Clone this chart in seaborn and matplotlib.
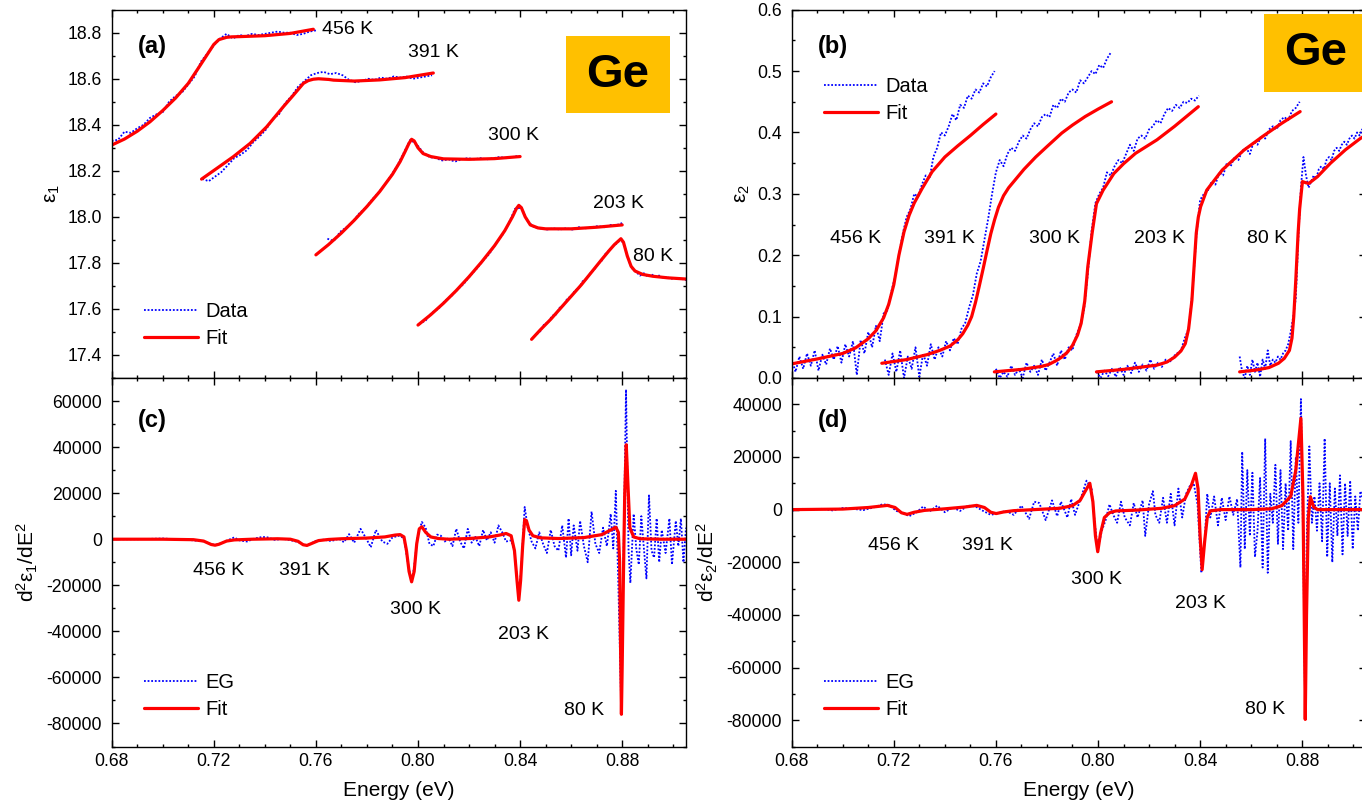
import numpy as np
import pandas as pd
import matplotlib
matplotlib.use("Agg")
import matplotlib.pyplot as plt
from matplotlib.patches import Rectangle
from matplotlib.ticker import MultipleLocator, FormatStrFormatter
import seaborn as sns

# ----------------------------------------------------------------------------
# Temperatures
# ----------------------------------------------------------------------------
temps = ["456 K", "391 K", "300 K", "203 K", "80 K"]

# ----------------------------------------------------------------------------
# (a) eps1 : measured spectra (uniform energy grids) and model fits
# ----------------------------------------------------------------------------
a456_data_start, a456_data_step = 0.680, 0.0025
a456_data = [18.33, 18.335, 18.37, 18.365, 18.385, 18.40, 18.43, 18.445, 18.455,
             18.50, 18.525, 18.54, 18.575, 18.61, 18.675, 18.71, 18.745, 18.775,
             18.795, 18.775, 18.79, 18.785, 18.795, 18.79, 18.795, 18.80, 18.805,
             18.80, 18.80, 18.79, 18.795, 18.805, 18.81]
a456_fit_e = [0.680, 0.685, 0.690, 0.695, 0.700, 0.705, 0.710, 0.714, 0.718, 0.720,
              0.722, 0.725, 0.727, 0.730, 0.740, 0.750, 0.759]
a456_fit = [18.312, 18.338, 18.372, 18.413, 18.462, 18.516, 18.58, 18.647, 18.715,
            18.749, 18.770, 18.780, 18.782, 18.783, 18.787, 18.797, 18.815]

a391_data_start, a391_data_step = 0.7155, 0.0025
a391_data = [18.165, 18.155, 18.175, 18.195, 18.225, 18.255, 18.27, 18.29, 18.325,
             18.35, 18.38, 18.425, 18.445, 18.495, 18.525, 18.565, 18.59, 18.615,
             18.625, 18.63, 18.62, 18.625, 18.615, 18.595, 18.585, 18.59, 18.60,
             18.595, 18.605, 18.60, 18.61, 18.605, 18.61, 18.60, 18.605, 18.61, 18.615]
a391_fit_e = [0.7152, 0.7211, 0.7276, 0.7342, 0.7407, 0.7472, 0.7512, 0.7551, 0.757,
              0.759, 0.761, 0.765, 0.7669, 0.775, 0.785, 0.795, 0.806]
a391_fit = [18.164, 18.21, 18.261, 18.319, 18.391, 18.478, 18.529, 18.58, 18.592,
            18.598, 18.600, 18.597, 18.594, 18.590, 18.595, 18.605, 18.625]

a300_data_start, a300_data_step = 0.7645, 0.0025
a300_data = [17.905, 17.895, 17.935, 17.955, 17.98, 18.015, 18.04, 18.075, 18.105,
             18.14, 18.18, 18.225, 18.28, 18.335, 18.315, 18.28, 18.26, 18.255,
             18.245, 18.25, 18.24, 18.25, 18.255, 18.25, 18.255, 18.25, 18.255,
             18.26, 18.255, 18.26, 18.265]
a300_fit_e = [0.760, 0.765, 0.770, 0.775, 0.780, 0.785, 0.790, 0.793, 0.795, 0.7965,
              0.7975, 0.7985, 0.800, 0.802, 0.805, 0.810, 0.820, 0.830, 0.840]
a300_fit = [17.835, 17.88, 17.93, 17.985, 18.045, 18.11, 18.185, 18.24, 18.285, 18.32,
            18.337, 18.33, 18.30, 18.275, 18.262, 18.252, 18.25, 18.253, 18.262]

a203_data_start, a203_data_step = 0.8005, 0.0025
a203_data = [17.535, 17.55, 17.585, 17.60, 17.635, 17.655, 17.685, 17.71, 17.745,
             17.775, 17.81, 17.84, 17.885, 17.92, 17.97, 18.035, 18.04, 17.98,
             17.955, 17.95, 17.945, 17.95, 17.945, 17.95, 17.945, 17.955, 17.95,
             17.955, 17.96, 17.955, 17.965, 17.965, 17.975]
a203_fit_e = [0.800, 0.805, 0.810, 0.815, 0.820, 0.825, 0.830, 0.834, 0.837, 0.8385,
              0.8395, 0.8405, 0.842, 0.844, 0.847, 0.850, 0.860, 0.870, 0.880]
a203_fit = [17.53, 17.575, 17.625, 17.68, 17.74, 17.805, 17.875, 17.94, 18.00, 18.035,
            18.05, 18.04, 18.00, 17.965, 17.952, 17.948, 17.948, 17.955, 17.965]

a80_data_start, a80_data_step = 0.8465, 0.0015
a80_data = [17.49, 17.505, 17.535, 17.54, 17.57, 17.575, 17.605, 17.615, 17.645,
            17.655, 17.68, 17.69, 17.72, 17.73, 17.755, 17.77, 17.795, 17.81, 17.84,
            17.855, 17.875, 17.885, 17.905, 17.87, 17.81, 17.775, 17.76, 17.745,
            17.755, 17.74, 17.75, 17.74, 17.745, 17.735, 17.74, 17.73, 17.735,
            17.73, 17.73, 17.725]
a80_fit_e = [0.8445, 0.848, 0.852, 0.856, 0.860, 0.864, 0.868, 0.872, 0.875, 0.877,
             0.8785, 0.8795, 0.8805, 0.882, 0.8835, 0.885, 0.888, 0.892, 0.898, 0.905]
a80_fit = [17.468, 17.51, 17.555, 17.605, 17.655, 17.705, 17.76, 17.815, 17.855,
           17.88, 17.895, 17.905, 17.89, 17.83, 17.785, 17.765, 17.75, 17.742,
           17.735, 17.73]

# ----------------------------------------------------------------------------
# (b) eps2 : measured spectra and model fits
# ----------------------------------------------------------------------------
b456_data_start, b456_data_step = 0.680, 0.0015
b456_data = [0.030, 0.010, 0.035, 0.015, 0.040, 0.020, 0.045, 0.012, 0.038, 0.022,
             0.048, 0.030, 0.052, 0.025, 0.055, 0.035, 0.060, 0.005, 0.062, 0.040,
             0.075, 0.050, 0.085, 0.060, 0.105, 0.110, 0.140, 0.165, 0.200, 0.235,
             0.262, 0.275, 0.300, 0.295, 0.315, 0.330, 0.325, 0.360, 0.375, 0.400,
             0.395, 0.410, 0.430, 0.420, 0.445, 0.440, 0.460, 0.455, 0.470, 0.465,
             0.480, 0.475, 0.490, 0.500]
b456_fit_e = [0.680, 0.690, 0.700, 0.705, 0.710, 0.713, 0.716, 0.718, 0.720, 0.722,
              0.724, 0.726, 0.728, 0.731, 0.735, 0.740, 0.745, 0.750, 0.755, 0.760]
b456_fit = [0.023, 0.031, 0.040, 0.049, 0.064, 0.077, 0.098, 0.120, 0.152, 0.200,
            0.238, 0.265, 0.285, 0.308, 0.336, 0.360, 0.378, 0.395, 0.413, 0.430]

b391_data_start, b391_data_step = 0.7165, 0.0015
b391_data = [0.030, 0.005, 0.040, 0.010, 0.045, 0.000, 0.035, 0.015, 0.050, 0.002,
             0.040, 0.020, 0.055, 0.030, 0.050, 0.035, 0.060, 0.045, 0.065, 0.055,
             0.080, 0.090, 0.115, 0.135, 0.170, 0.190, 0.225, 0.260, 0.300, 0.335,
             0.355, 0.345, 0.365, 0.375, 0.370, 0.385, 0.395, 0.390, 0.405, 0.415,
             0.410, 0.425, 0.430, 0.425, 0.445, 0.440, 0.455, 0.450, 0.465, 0.470,
             0.465, 0.485, 0.480, 0.490, 0.500, 0.495, 0.510, 0.505, 0.520, 0.530]
b391_fit_e = [0.7153, 0.725, 0.733, 0.738, 0.742, 0.745, 0.747, 0.749, 0.7505, 0.752,
              0.7535, 0.755, 0.7565, 0.758, 0.7595, 0.761, 0.763, 0.765, 0.767, 0.771,
              0.7756, 0.780, 0.7858, 0.790, 0.795, 0.800, 0.8053]
b391_fit = [0.024, 0.030, 0.038, 0.045, 0.052, 0.062, 0.072, 0.086, 0.100, 0.123,
            0.150, 0.178, 0.207, 0.235, 0.258, 0.278, 0.297, 0.310, 0.320, 0.340,
            0.360, 0.377, 0.399, 0.412, 0.426, 0.438, 0.450]

b300_data_start, b300_data_step = 0.760, 0.0015
b300_data = [0.015, 0.000, 0.010, 0.002, 0.020, 0.005, 0.015, 0.000, 0.025, 0.010,
             0.020, 0.005, 0.030, 0.012, 0.025, 0.040, 0.020, 0.045, 0.030, 0.050,
             0.045, 0.070, 0.085, 0.110, 0.170, 0.240, 0.285, 0.300, 0.310, 0.335,
             0.330, 0.345, 0.355, 0.350, 0.365, 0.380, 0.370, 0.390, 0.395, 0.390,
             0.405, 0.410, 0.420, 0.415, 0.430, 0.440, 0.435, 0.445, 0.440, 0.450,
             0.448, 0.455, 0.452, 0.460]
b300_fit_e = [0.7594, 0.770, 0.778, 0.7807, 0.7835, 0.7858, 0.788, 0.790, 0.792,
              0.7934, 0.7948, 0.796, 0.7977, 0.7994, 0.802, 0.8062, 0.810, 0.8147,
              0.8231, 0.830, 0.8393]
b300_fit = [0.010, 0.014, 0.019, 0.022, 0.028, 0.034, 0.042, 0.053, 0.070, 0.089,
            0.125, 0.181, 0.236, 0.284, 0.306, 0.333, 0.349, 0.366, 0.388, 0.410, 0.442]

b203_data_start, b203_data_step = 0.7995, 0.0015
b203_data = [0.010, 0.000, 0.012, 0.003, 0.015, 0.002, 0.018, 0.005, 0.020, 0.008,
             0.025, 0.010, 0.022, 0.012, 0.030, 0.015, 0.025, 0.018, 0.030, 0.025,
             0.035, 0.040, 0.045, 0.065, 0.080, 0.140, 0.230, 0.290, 0.300, 0.305,
             0.320, 0.315, 0.335, 0.330, 0.350, 0.345, 0.360, 0.355, 0.370, 0.375,
             0.365, 0.385, 0.380, 0.395, 0.390, 0.405, 0.410, 0.405, 0.420, 0.425,
             0.420, 0.435, 0.440, 0.450]
b203_fit_e = [0.7994, 0.810, 0.8231, 0.827, 0.830, 0.8325, 0.8342, 0.8355, 0.8368,
              0.8377, 0.8385, 0.8393, 0.8402, 0.8426, 0.8487, 0.8571, 0.865, 0.872,
              0.8792]
b203_fit = [0.010, 0.014, 0.021, 0.026, 0.034, 0.044, 0.056, 0.080, 0.127, 0.185,
            0.236, 0.262, 0.279, 0.306, 0.339, 0.371, 0.395, 0.415, 0.434]

b80_data_start, b80_data_step = 0.8555, 0.001
b80_data = [0.035, 0.010, 0.000, 0.020, 0.005, 0.030, 0.010, 0.025, 0.002, 0.030,
            0.015, 0.045, 0.020, 0.030, 0.025, 0.035, 0.030, 0.040, 0.045, 0.055,
            0.075, 0.100, 0.130, 0.230, 0.310, 0.360, 0.330, 0.310, 0.320, 0.330,
            0.325, 0.340, 0.345, 0.340, 0.355, 0.360, 0.355, 0.370, 0.375, 0.370,
            0.380, 0.385, 0.380, 0.390, 0.395, 0.390, 0.400, 0.395, 0.405, 0.400,
            0.405]
b80_fit_e = [0.8555, 0.862, 0.867, 0.8707, 0.873, 0.875, 0.876, 0.8767, 0.8775,
             0.8784, 0.8790, 0.8796, 0.8801, 0.8815, 0.8826, 0.886, 0.8911, 0.897,
             0.9027, 0.905]
b80_fit = [0.010, 0.013, 0.017, 0.024, 0.032, 0.045, 0.065, 0.100, 0.160, 0.236,
           0.275, 0.300, 0.320, 0.318, 0.317, 0.328, 0.350, 0.372, 0.390, 0.396]

# ----------------------------------------------------------------------------
# (c) second derivative of eps1 : EG spectrum and fit
# ----------------------------------------------------------------------------
c_eg_e = [0.680, 0.690, 0.700, 0.705, 0.710, 0.716, 0.719, 0.7205, 0.722, 0.725,
          0.728, 0.730, 0.733, 0.736, 0.739, 0.741, 0.744, 0.747, 0.750, 0.753,
          0.7555, 0.7575, 0.760, 0.763, 0.766, 0.769, 0.771, 0.773, 0.775, 0.7775,
          0.780, 0.7815, 0.7835, 0.786, 0.788, 0.790, 0.7925, 0.7945, 0.7960, 0.7975,
          0.7985, 0.7998, 0.8015, 0.803, 0.8045, 0.806, 0.8075, 0.809, 0.8105, 0.812,
          0.8135, 0.815, 0.8165, 0.818, 0.8195, 0.821, 0.8225, 0.824, 0.8255, 0.827,
          0.8285, 0.830, 0.8315, 0.833, 0.8345, 0.8365, 0.8378, 0.8395, 0.8405, 0.8418,
          0.843, 0.8445, 0.846, 0.8475, 0.849, 0.8505, 0.852, 0.8535, 0.855, 0.8565,
          0.858, 0.859, 0.860, 0.861, 0.8625, 0.8635, 0.865, 0.8665, 0.868, 0.8695,
          0.871, 0.8725, 0.874, 0.8755, 0.8765, 0.8775, 0.8785, 0.8797, 0.8805, 0.8815,
          0.8825, 0.8832, 0.8845, 0.8855, 0.8865, 0.8875, 0.8885, 0.8895, 0.8905,
          0.8915, 0.8925, 0.8935, 0.8945, 0.8955, 0.897, 0.8985, 0.8995, 0.901, 0.902,
          0.903, 0.904, 0.905]
c_eg = [0, 0, 300, 0, -300, -900, -2200, -2500, -2100, -700,
        800, -500, -1000, 300, 1000, 800, -300, 200, -400, -1200,
        -2600, -2200, -700, -200, -800, 200, -1300, 2200, -1500, 4500,
        -300, -3500, 4000, -1000, -2000, 800, 1500, 500, -10000, -18500,
        -12000, 1000, 7500, 5000, -2000, -3000, 2000, 1500, -1000, 500,
        -3000, 4500, -1000, -4000, 4500, -1500, 1000, -3000, 4000, -500,
        3000, -1500, 6000, 3000, -1000, -500, -5000, -26000, -12000, 14000,
        5000, -1000, -4000, 3000, -2000, -6000, 4000, -3000, -5000, 6000,
        -8000, 9000, -7000, 6000, -5000, 8000, -3000, -10000, 12000, -2000,
        -6000, 5000, -3000, 11000, -4000, 21000, -20000, -76000, -10000, 65000,
        -5000, -19000, 11000, -4000, -11000, 10000, -4000, -17000, 19000,
        -5000, -8000, 9000, -10000, 4000, -6000, 9000, -11000, 8000, -3000,
        9000, -10000, 5000]
c_fit_e = [0.680, 0.700, 0.712, 0.716, 0.719, 0.7205, 0.722, 0.725, 0.728, 0.735,
           0.745, 0.750, 0.753, 0.755, 0.7565, 0.758, 0.761, 0.765, 0.770, 0.780,
           0.787, 0.791, 0.7930, 0.7945, 0.7955, 0.7965, 0.7975, 0.7985, 0.7995, 0.8005,
           0.8015, 0.803, 0.805, 0.808, 0.812, 0.820, 0.828, 0.832, 0.8345, 0.8365,
           0.8378, 0.8388, 0.8395, 0.8402, 0.8410, 0.8418, 0.8425, 0.8435, 0.845, 0.848,
           0.855, 0.865, 0.872, 0.8755, 0.8775, 0.8785, 0.8790, 0.8794, 0.8797, 0.8800,
           0.8805, 0.8810, 0.8816, 0.8822, 0.8830, 0.8845, 0.887, 0.895, 0.905]
c_fit = [0, 0, -200, -800, -2300, -2600, -2200, -800, -300, 0,
         200, 0, -900, -2400, -2700, -2000, -600, -100, 200, 500,
         1000, 1800, 2000, 1000, -5000, -14000, -18500, -14000, -2000, 4500,
         5400, 3000, 1000, 300, 0, 300, 1000, 1800, 2500, 1500,
         -5000, -18000, -26500, -18000, -3000, 8500, 8000, 4000, 1500, 600,
         300, 700, 2000, 4000, 5200, 3000, -10000, -50000, -76000, -55000,
         -15000, 20000, 41000, 25000, 5000, 1000, 200, 0, 0]

# ----------------------------------------------------------------------------
# (d) second derivative of eps2 : EG spectrum and fit
# ----------------------------------------------------------------------------
d_eg_e = [0.680, 0.684, 0.688, 0.692, 0.696, 0.700, 0.704, 0.708, 0.712, 0.7155,
          0.718, 0.721, 0.7235, 0.726, 0.729, 0.7315, 0.734, 0.737, 0.740, 0.743,
          0.746, 0.749, 0.752, 0.755, 0.758, 0.761, 0.764, 0.767, 0.770, 0.773,
          0.775, 0.777, 0.7795, 0.782, 0.784, 0.7855, 0.788, 0.7895, 0.791, 0.7935,
          0.7955, 0.7975, 0.7985, 0.7999, 0.8015, 0.803, 0.8045, 0.806, 0.8075, 0.809,
          0.8105, 0.8125, 0.814, 0.8155, 0.8175, 0.8185, 0.820, 0.8215, 0.8225, 0.824,
          0.8255, 0.827, 0.8285, 0.830, 0.8315, 0.833, 0.8345, 0.836, 0.8375, 0.839,
          0.8405, 0.8418, 0.8428, 0.844, 0.8455, 0.847, 0.8485, 0.850, 0.8515, 0.853,
          0.8545, 0.8558, 0.8565, 0.8575, 0.8585, 0.8595, 0.8605, 0.8615, 0.8625, 0.8635,
          0.8645, 0.8655, 0.8665, 0.8675, 0.8685, 0.8695, 0.8705, 0.8715, 0.8725, 0.8735,
          0.8745, 0.8755, 0.8765, 0.8775, 0.8785, 0.8795, 0.8805, 0.8812, 0.8818, 0.8828,
          0.8838, 0.8848, 0.8858, 0.8868, 0.8878, 0.8888, 0.8898, 0.8908, 0.8918, 0.8928,
          0.8938, 0.8948, 0.8958, 0.8968, 0.8978, 0.8988, 0.8998, 0.9008, 0.9018, 0.9028,
          0.905]
d_eg = [-500, 300, 0, 300, -300, 600, 300, -200, 800, 2000,
        1800, -500, -1200, -2500, -1000, 1200, -700, 1500, -1000, 800,
        -500, 1500, 1200, -500, -2000, -1300, -500, -2000, 1500, -3500,
        3000, 2500, -4000, 3500, -2500, 3000, -3000, 4000, -2000, 5000,
        11000, 8000, -3000, -15000, -8000, -4000, 2000, -2000, -5000, 3000,
        -3000, -6000, 2500, -3000, 3500, -10000, 2000, 7000, -2000, -5000,
        4500, -5000, 6000, -6000, 8000, -3000, 6000, 9000, 10000, 2000,
        -24000, -12000, 6000, -3000, 5000, -6000, 4500, -4000, 5000, -2000,
        4000, -22000, 22000, -15000, 15000, -10000, 14000, -18000, -8000, 12000,
        -22000, 27000, -24000, 6000, -5000, 17000, -13000, 15000, -15000, 10000,
        -8000, 26000, -15000, 20000, -5000, 42000, -20000, -78000, -10000, 24000,
        -5000, 5000, -8000, 10000, -12000, 27000, -18000, 10000, -20000, 8000,
        -10000, 13000, -17000, 10000, -10000, 11000, -15000, 5000, -8000, 7000,
        0]
d_fit_e = [0.680, 0.700, 0.710, 0.7175, 0.7205, 0.723, 0.7252, 0.728, 0.732, 0.740,
           0.748, 0.7525, 0.7555, 0.758, 0.7601, 0.763, 0.767, 0.775, 0.785, 0.790,
           0.793, 0.7950, 0.7968, 0.7980, 0.7990, 0.7999, 0.8010, 0.8025, 0.8045, 0.807,
           0.815, 0.825, 0.830, 0.834, 0.8365, 0.8382, 0.8392, 0.8400, 0.8408, 0.8418,
           0.8428, 0.8440, 0.848, 0.860, 0.868, 0.872, 0.8755, 0.8775, 0.8795, 0.8803,
           0.8808, 0.8812, 0.8817, 0.8824, 0.8832, 0.8845, 0.886, 0.905]
d_fit = [0, 200, 800, 1600, 800, -1200, -1800, -1000, -300, 300,
         1000, 1600, 800, -1000, -1500, -900, -400, 0, 500, 1500,
         3500, 7000, 10000, 3000, -10000, -16000, -9000, -3000, -1200, -500,
         -200, 500, 1500, 4000, 9000, 13800, 8000, -10000, -22800, -12000,
         -3000, -500, 0, 0, 300, 1500, 5000, 15000, 34700, 5000,
         -40000, -79700, -40000, -3000, 4900, 1000, 0, 0]

# Label positions (energy, value) for the temperature annotations
a_label_pos = [(0.7624, 18.812), (0.7961, 18.712), (0.8275, 18.355), (0.8686, 18.059), (0.8842, 17.829)]
b_label_pos = [(0.6950, 0.228), (0.7317, 0.228), (0.7731, 0.228), (0.8141, 0.228), (0.8583, 0.228)]
c_label_pos = [(0.7120, -13400), (0.7456, -13400), (0.7890, -30300), (0.8313, -41200), (0.8572, -74200)]
d_label_pos = [(0.7099, -13450), (0.7466, -13800), (0.7895, -26400), (0.8302, -35500), (0.8575, -76100)]

# ----------------------------------------------------------------------------
# Styling
# ----------------------------------------------------------------------------
sns.set_style("ticks")
plt.rcParams["font.family"] = ["Liberation Sans", "DejaVu Sans"]
plt.rcParams["mathtext.fontset"] = "custom"
plt.rcParams["mathtext.rm"] = "Liberation Sans"
plt.rcParams["mathtext.it"] = "Liberation Sans:italic"
plt.rcParams["mathtext.bf"] = "Liberation Sans:bold"
plt.rcParams["axes.unicode_minus"] = False
for key in ("text.color", "axes.labelcolor", "xtick.color", "ytick.color",
            "xtick.labelcolor", "ytick.labelcolor", "axes.edgecolor"):
    plt.rcParams[key] = "black"

DATA_STYLE = dict(color="#0000FF", lw=1.3, linestyle=(0, (1, 1)))
FIT_STYLE = dict(color="#FF0000", lw=2.3, linestyle="-")

W, H = 1362, 809
fig = plt.figure(figsize=(W / 100, H / 100), dpi=100)


def add_axes(left, top, width, height):
    return fig.add_axes([left / W, 1 - (top + height) / H, width / W, height / H])


ax_a = add_axes(111.7, 9.7, 574.3, 368.3)
ax_b = add_axes(791.7, 9.7, 574.3, 368.3)
ax_c = add_axes(111.7, 378.0, 574.3, 368.5)
ax_d = add_axes(791.7, 378.0, 574.3, 368.5)


def line(ax, e, v, style, label=None):
    df = pd.DataFrame({"E": np.asarray(e, float), "v": np.asarray(v, float)})
    kw = dict(style)
    if label is not None:
        kw["label"] = label
    sns.lineplot(data=df, x="E", y="v", ax=ax, sort=False, estimator=None, **kw)


def grid(start, step, vals):
    return start + step * np.arange(len(vals))


a_sets = [
    (grid(a456_data_start, a456_data_step, a456_data), a456_data, a456_fit_e, a456_fit),
    (grid(a391_data_start, a391_data_step, a391_data), a391_data, a391_fit_e, a391_fit),
    (grid(a300_data_start, a300_data_step, a300_data), a300_data, a300_fit_e, a300_fit),
    (grid(a203_data_start, a203_data_step, a203_data), a203_data, a203_fit_e, a203_fit),
    (grid(a80_data_start, a80_data_step, a80_data), a80_data, a80_fit_e, a80_fit),
]
b_sets = [
    (grid(b456_data_start, b456_data_step, b456_data), b456_data, b456_fit_e, b456_fit),
    (grid(b391_data_start, b391_data_step, b391_data), b391_data, b391_fit_e, b391_fit),
    (grid(b300_data_start, b300_data_step, b300_data), b300_data, b300_fit_e, b300_fit),
    (grid(b203_data_start, b203_data_step, b203_data), b203_data, b203_fit_e, b203_fit),
    (grid(b80_data_start, b80_data_step, b80_data), b80_data, b80_fit_e, b80_fit),
]

for ax, sets in ((ax_a, a_sets), (ax_b, b_sets)):
    for i, (de, dv, fe, fv) in enumerate(sets):
        line(ax, de, dv, DATA_STYLE, "Data" if i == 0 else None)
    for i, (de, dv, fe, fv) in enumerate(sets):
        line(ax, fe, fv, FIT_STYLE, "Fit" if i == 0 else None)

line(ax_c, c_eg_e, c_eg, DATA_STYLE, "EG")
line(ax_c, c_fit_e, c_fit, FIT_STYLE, "Fit")
line(ax_d, d_eg_e, d_eg, DATA_STYLE, "EG")
line(ax_d, d_fit_e, d_fit, FIT_STYLE, "Fit")

# Axis ranges and ticks
ax_a.set_ylim(17.3, 18.9)
ax_b.set_ylim(0.0, 0.6)
ax_c.set_ylim(-90000, 70000)
ax_d.set_ylim(-90000, 50000)

ax_a.yaxis.set_major_locator(MultipleLocator(0.2))
ax_a.yaxis.set_minor_locator(MultipleLocator(0.1))
ax_a.yaxis.set_major_formatter(FormatStrFormatter("%.1f"))
ax_b.yaxis.set_major_locator(MultipleLocator(0.1))
ax_b.yaxis.set_minor_locator(MultipleLocator(0.05))
ax_b.yaxis.set_major_formatter(FormatStrFormatter("%.1f"))
for ax in (ax_c, ax_d):
    ax.yaxis.set_major_locator(MultipleLocator(20000))
    ax.yaxis.set_minor_locator(MultipleLocator(10000))
    ax.yaxis.set_major_formatter(FormatStrFormatter("%d"))

for ax in (ax_a, ax_b, ax_c, ax_d):
    ax.set_xlim(0.68, 0.905)
    ax.xaxis.set_major_locator(MultipleLocator(0.04))
    ax.xaxis.set_minor_locator(MultipleLocator(0.01))
    ax.xaxis.set_major_formatter(FormatStrFormatter("%.2f"))
    ax.tick_params(which="both", direction="in", top=True, right=True,
                   width=1.0, color="black")
    ax.tick_params(which="major", length=4.7)
    ax.tick_params(which="minor", length=2.4)
    ax.tick_params(axis="y", which="major", labelsize=12.7, pad=7, labelcolor="black")
    ax.tick_params(axis="x", which="major", labelsize=12.7, pad=4.5, labelcolor="black")
    for sp in ax.spines.values():
        sp.set_linewidth(1.0)
        sp.set_color("black")
        sp.set_visible(True)
    ax.set_facecolor("white")

for ax in (ax_a, ax_b):
    ax.tick_params(axis="x", labelbottom=False)
    ax.set_xlabel("")
for ax in (ax_c, ax_d):
    ax.set_xlabel("Energy (eV)", fontsize=15, labelpad=8, color="black")

ax_a.set_ylabel("ε$_1$", fontsize=15, labelpad=4, color="black")
ax_b.set_ylabel("ε$_2$", fontsize=15, labelpad=4, color="black")
ax_c.set_ylabel("d$^2$ε$_1$/dE$^2$", fontsize=15, labelpad=5, color="black")
ax_d.set_ylabel("d$^2$ε$_2$/dE$^2$", fontsize=15, labelpad=5, color="black")

# Panel tags
for ax, tag, y in ((ax_a, "(a)", 0.899), (ax_b, "(b)", 0.899), (ax_c, "(c)", 0.886), (ax_d, "(d)", 0.886)):
    ax.text(0.045, y, tag, transform=ax.transAxes, fontsize=17, fontweight="bold",
            ha="left", va="center", color="black")

# Temperature labels
for ax, pos in ((ax_a, a_label_pos), (ax_b, b_label_pos), (ax_c, c_label_pos), (ax_d, d_label_pos)):
    for t, (x, y) in zip(temps, pos):
        ax.text(x, y, t, fontsize=14, ha="left", va="center", color="black")

# Material badges
for ax, x0, y0, w, h in ((ax_a, 0.791, 0.7195, 0.181, 0.209), (ax_b, 0.8224, 0.7765, 0.181, 0.2115)):
    ax.add_patch(Rectangle((x0, y0), w, h, transform=ax.transAxes, facecolor="#FFC000",
                           edgecolor="none", zorder=5, clip_on=False))
    ax.text(x0 + w / 2, y0 + h / 2, "Ge", transform=ax.transAxes, fontsize=34,
            fontweight="bold", ha="center", va="center", zorder=6, color="black")

# Legends
for ax, y in ((ax_a, 0.2063), (ax_b, 0.817), (ax_c, 0.1995), (ax_d, 0.1995)):
    leg = ax.legend(loc="upper left", bbox_to_anchor=(0.056, y), frameon=False,
                    borderaxespad=0, borderpad=0, handlelength=2.7, handletextpad=0.35,
                    labelspacing=0.39, fontsize=14.5)
    for txt in leg.get_texts():
        txt.set_color("black")

fig.savefig("out.png", dpi=100, facecolor="white")
